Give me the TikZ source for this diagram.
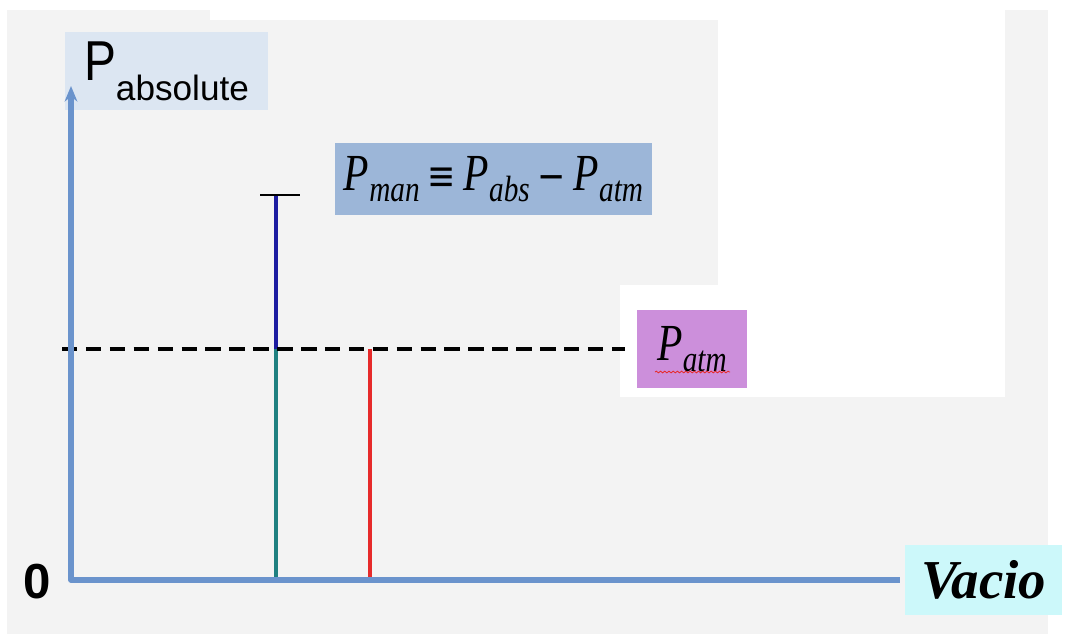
\documentclass[tikz,border=0pt]{standalone}
\usepackage{fontspec}
\setmainfont{Liberation Serif}
\newfontfamily\arialf{Liberation Sans}
\newfontfamily\symfont{DejaVu Serif}
\usetikzlibrary{arrows.meta,decorations.pathmorphing}
\definecolor{bggrey}{HTML}{F3F3F3}
\definecolor{axisblue}{HTML}{6A93CC}
\definecolor{absfill}{HTML}{DCE6F2}
\definecolor{formfill}{HTML}{9CB6D8}
\definecolor{atmfill}{HTML}{CC8FDB}
\definecolor{vacfill}{HTML}{CCF8FA}
\definecolor{manblue}{HTML}{1C1CA0}
\definecolor{absteal}{HTML}{1F8080}
\definecolor{vacred}{HTML}{E62A2A}
\newcommand{\mysubs}[1]{\raisebox{-8pt}{\fontsize{26}{26}\selectfont #1}}
\newcommand{\mysym}[1]{\hspace{7pt}{\upshape\symfont\fontsize{30}{30}\selectfont #1}\hspace{7pt}}
\tikzset{
  labelbox/.style={rectangle,inner sep=0pt,outer sep=0pt,draw=none},
  axisline/.style={draw=axisblue,line width=3.6pt,line join=round},
  levelline/.style={line width=2.8pt},
  atmdash/.style={draw=black,line width=2.8pt,dash pattern=on 11pt off 6pt},
}
\begin{document}
\begin{tikzpicture}[x=0.025cm,y=-0.025cm]
\useasboundingbox (0,0) rectangle (1068,634);
% background panels
\fill[white] (0,0) rectangle (1068,634);
\fill[bggrey] (7,10) rectangle (1048,634);
\fill[white] (210,0) rectangle (718,20);
\fill[white] (718,0) rectangle (1005,397);
\fill[white] (620,285) rectangle (718,397);

% coordinates
\coordinate (O) at (71,580);
\coordinate (ytop) at (71,86);
\coordinate (xend) at (900,580);
\coordinate (manTop) at (276,195);
\coordinate (manMid) at (276,349);
\coordinate (manBot) at (276,580);
\coordinate (redTop) at (370,349);
\coordinate (redBot) at (370,580);
\coordinate (dashL) at (62,349);
\coordinate (dashR) at (625,349);
\coordinate (tickL) at (260,195);
\coordinate (tickR) at (300,195);
\coordinate (wavyL) at (655,372);
\coordinate (wavyR) at (730,372);

% boxes with labels
\node[labelbox,fill=absfill,minimum width=5.075cm,minimum height=1.95cm] (pabs) at (166.5,71)
  {\raisebox{5pt}{\arialf\fontsize{40}{40}\selectfont\scalebox{0.85}[1]{P}}\raisebox{-9pt}{\arialf\fontsize{25}{25}\selectfont absolute}};
\node[labelbox,fill=formfill,minimum width=7.925cm,minimum height=1.8cm] (form) at (493.5,179)
  {\scalebox{0.8}[1]{\fontsize{37}{37}\selectfont\itshape P\mysubs{man}\mysym{≡}P\mysubs{abs}\mysym{−}P\mysubs{atm}}};
\node[labelbox,fill=atmfill,minimum width=2.75cm,minimum height=1.95cm] (patm) at (692,349)
  {\scalebox{0.8}[1]{\fontsize{37}{37}\selectfont\itshape P\mysubs{atm}}};
\node[labelbox,fill=vacfill,minimum width=3.925cm,minimum height=1.75cm] (vac) at (983.5,580)
  {\fontsize{39}{39}\selectfont\bfseries\itshape Vacio};
\node[inner sep=0pt] (zero) at (37,582) {\arialf\bfseries\fontsize{35}{35}\selectfont 0};

% spell-check underline under atm
\draw[vacred,line width=0.6pt,decorate,decoration={snake,amplitude=0.6pt,segment length=3pt}]
  (wavyL) -- (wavyR);

% level lines
\draw[levelline,draw=manblue] (manTop) -- (manMid);
\draw[levelline,draw=absteal] (manMid) -- (manBot);
\draw[levelline,draw=vacred] (redTop) -- (redBot);
\draw[line width=1.2pt] (tickL) -- (tickR);
\draw[atmdash] (dashL) -- (dashR);

% axes
\draw[axisline,{Stealth[length=11pt,width=9pt]}-] (ytop) -- (O) -- (xend);
\end{tikzpicture}
\end{document}
